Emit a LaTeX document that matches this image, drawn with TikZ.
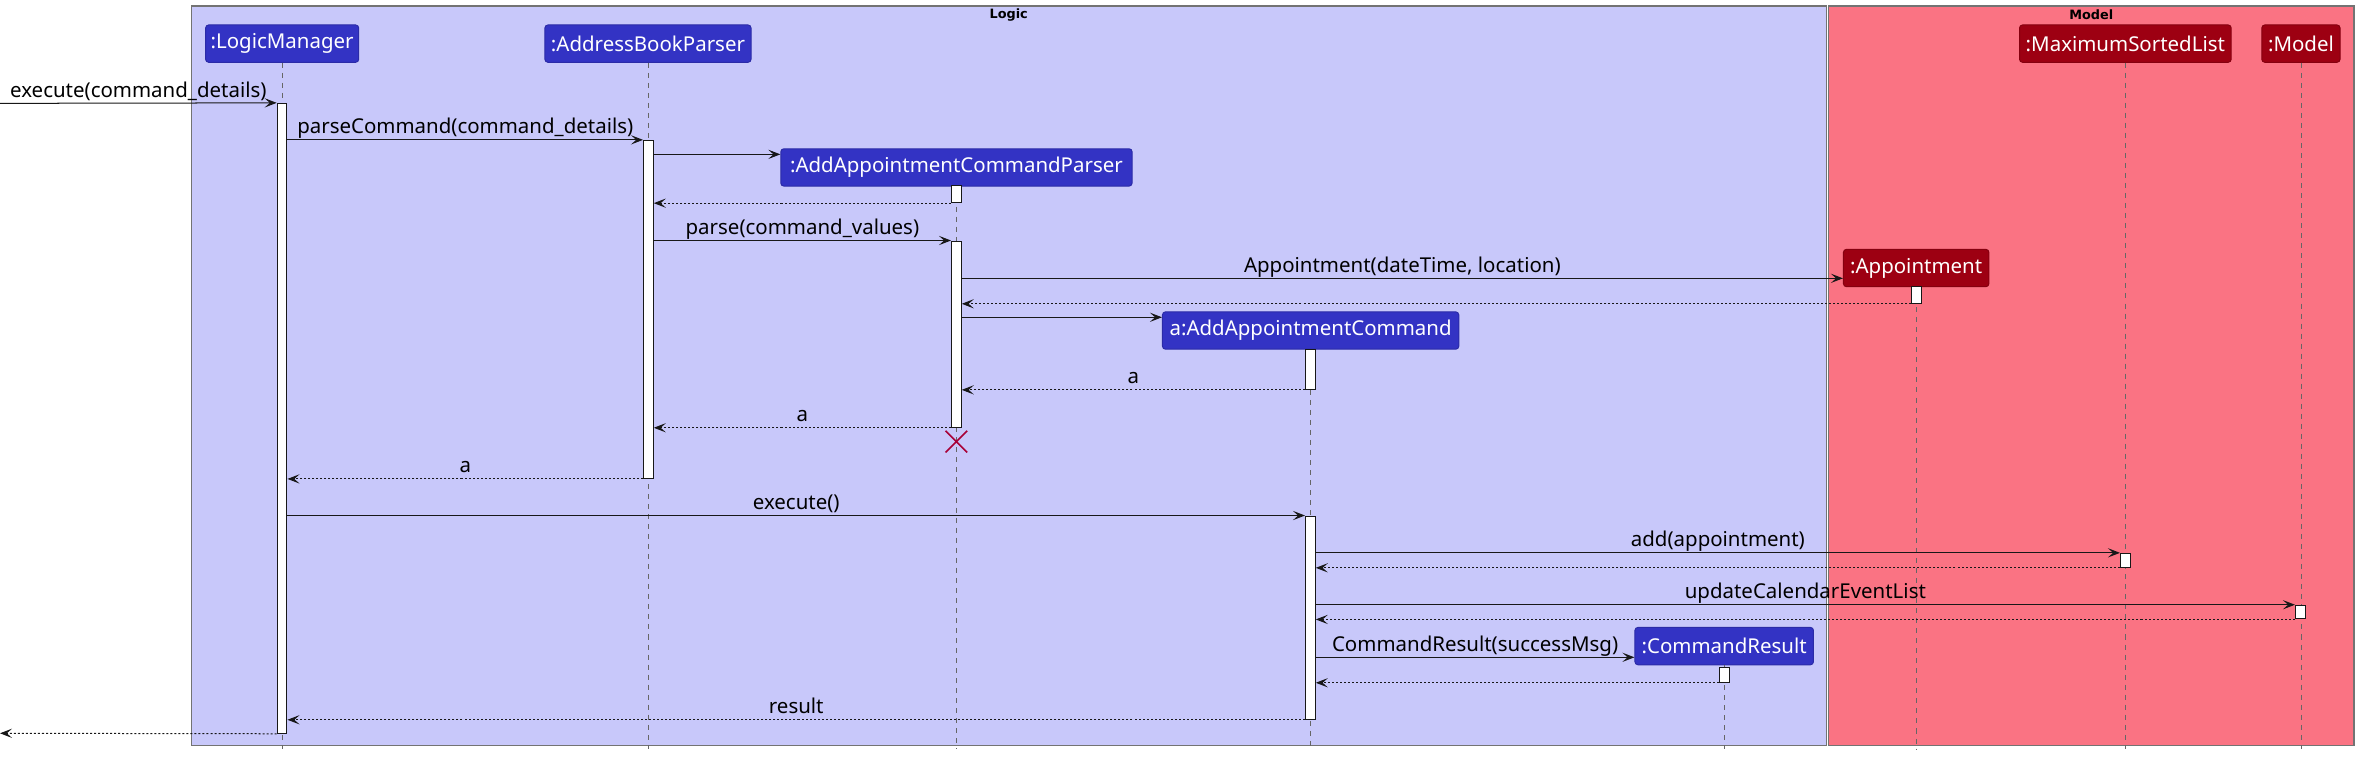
\documentclass[tikz,border=0pt]{standalone}
\usepackage{fontspec}
\setmainfont{Noto Sans}
\newfontfamily\titlefont{DejaVu Sans}
\usetikzlibrary{arrows.meta,fit,shapes.misc}
\definecolor{logicbg}{HTML}{C8C8FA}
\definecolor{modelbg}{HTML}{FA7383}
\definecolor{hdrblue}{HTML}{3333C4}
\definecolor{hdrred}{HTML}{9D0012}
\definecolor{ln}{HTML}{181818}
\definecolor{destroyc}{HTML}{A80036}
\begin{document}
\begin{tikzpicture}[x=0.75pt,y=-0.75pt,
  group/.style={draw=black!55, line width=0.6pt},
  hdr/.style={rounded corners=1.5pt, text=white, font=\fontsize{10.2}{12}\selectfont, minimum height=18.6pt, inner sep=0pt},
  lhdr/.style={hdr, fill=hdrblue, draw=hdrblue!85!black, line width=0.5pt},
  mhdr/.style={hdr, fill=hdrred, draw=hdrred!85!black, line width=0.5pt},
  life/.style={draw=black!60, line width=0.4pt, dash pattern=on 2.5pt off 2.5pt},
  act/.style={draw=ln, fill=white, line width=0.5pt, inner sep=0pt},
  msg/.style={draw=ln, line width=0.5pt, -{Stealth[length=6pt,width=4.6pt,inset=2.6pt]}},
  ret/.style={msg, dash pattern=on 1pt off 1pt},
  lbl/.style={font=\fontsize{10.2}{12}\selectfont, anchor=base, inner sep=0pt, yshift=3pt},
  grouptitle/.style={font=\titlefont\bfseries\fontsize{6.4}{8}\selectfont, inner sep=0pt},
  xmark/.style={cross out, draw=destroyc, line width=0.8pt, minimum size=10pt, inner sep=0pt}
]
\useasboundingbox (0,0) rectangle (1568,503);
% groups
\path[group, fill=logicbg] (127.2,4) rectangle (1213.9,495.6);
\path[group, fill=modelbg] (1215.5,4) rectangle (1564.7,495.6);
\node[grouptitle] (tlogic) at (670.5,10) {Logic};
\node[grouptitle] (tmodel) at (1390,10) {Model};
% participants
\node[lhdr, minimum width=76.3pt] (lm) at (187.55,29) {:LogicManager};
\node[lhdr, minimum width=102.75pt] (abp) at (430.7,29) {:AddressBookParser};
\node[lhdr, minimum width=175.1pt] (aacp) at (635.75,111.3) {:AddAppointmentCommandParser};
\node[mhdr, minimum width=72.5pt] (appt) at (1273.65,178.15) {:Appointment};
\node[lhdr, minimum width=147.7pt] (aac) at (871.15,219.7) {a:AddAppointmentCommand};
\node[mhdr, minimum width=105.5pt] (msl) at (1412.7,29) {:MaximumSortedList};
\node[mhdr, minimum width=39pt] (model) at (1529.4,29) {:Model};
\node[lhdr, minimum width=89pt] (cr) at (1146.05,429.45) {:CommandResult};
% lifelines
\coordinate (bot) at (0,498);
\foreach \p in {lm,abp,aacp,appt,aac,msl,model,cr}
  \draw[life] (\p.south) -- (\p.south |- bot);
% activation bars
\node[act, fit={(184.25,68.7) (190.75,487.4)}] (lmA) {};
\node[act, fit={(427.75,93.3) (434.25,318)}] (abpA) {};
\node[act, fit={(632.45,123.6) (638.95,134.7)}] (aacpA1) {};
\node[act, fit={(632.45,160.2) (638.95,284)}] (aacpA2) {};
\node[act, fit={(1270.75,190.6) (1277.25,201.6)}] (apptA) {};
\node[act, fit={(867.75,232.2) (874.25,258.8)}] (aacA1) {};
\node[act, fit={(867.75,343) (874.25,478.1)}] (aacA2) {};
\node[act, fit={(1409.45,367.8) (1415.95,377.1)}] (mslA) {};
\node[act, fit={(1525.75,402.3) (1532.25,411.4)}] (modelA) {};
\node[act, fit={(1142.75,443.5) (1149.25,453.5)}] (crA) {};
% free ends and message rows
\coordinate (src) at (0,68.7);
\coordinate (out) at (0,487.4);
\coordinate (y3) at (0,102.6);
\coordinate (y6) at (0,185);
\coordinate (y8) at (0,210.9);
\coordinate (y17) at (0,436.9);
\coordinate (dxy) at (0,293.5);
% messages
\draw[msg] (src) -- node[lbl]{execute(command\_details)} (lmA.north west);
\draw[msg] (lmA.east |- abpA.north) -- node[lbl]{parseCommand(command\_details)} (abpA.north west);
\draw[msg] (abpA.east |- y3) -- (aacp.west |- y3);
\draw[ret] (aacpA1.south west) -- (abpA.east |- aacpA1.south);
\draw[msg] (abpA.east |- aacpA2.north) -- node[lbl]{parse(command\_values)} (aacpA2.north west);
\draw[msg] (aacpA2.east |- y6) -- node[lbl]{Appointment(dateTime, location)} (appt.west |- y6);
\draw[ret] (apptA.south west) -- (aacpA2.east |- apptA.south);
\draw[msg] (aacpA2.east |- y8) -- (aac.west |- y8);
\draw[ret] (aacA1.south west) -- node[lbl]{a} (aacpA2.east |- aacA1.south);
\draw[ret] (aacpA2.south west) -- node[lbl]{a} (abpA.east |- aacpA2.south);
\node[xmark] (dx) at (aacpA2.south |- dxy) {};
\draw[ret] (abpA.south west) -- node[lbl]{a} (lmA.east |- abpA.south);
\draw[msg] (lmA.east |- aacA2.north) -- node[lbl]{execute()} (aacA2.north west);
\draw[msg] (aacA2.east |- mslA.north) -- node[lbl]{add(appointment)} (mslA.north west);
\draw[ret] (mslA.south west) -- (aacA2.east |- mslA.south);
\draw[msg] (aacA2.east |- modelA.north) -- node[lbl]{updateCalendarEventList} (modelA.north west);
\draw[ret] (modelA.south west) -- (aacA2.east |- modelA.south);
\draw[msg] (aacA2.east |- y17) -- node[lbl]{CommandResult(successMsg)} (cr.west |- y17);
\draw[ret] (crA.south west) -- (aacA2.east |- crA.south);
\draw[ret] (aacA2.south west) -- node[lbl]{result} (lmA.east |- aacA2.south);
\draw[ret] (lmA.south west) -- (out);
\end{tikzpicture}
\end{document}
